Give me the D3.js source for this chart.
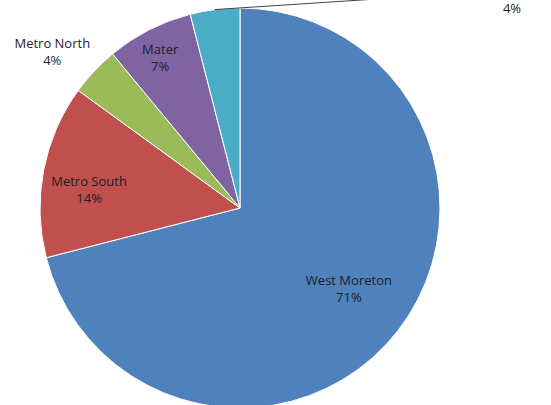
<!DOCTYPE html>
<html><head><meta charset="utf-8">
<script src="https://cdn.jsdelivr.net/npm/d3@7"></script>
<style>body{margin:0;background:#fff}svg{display:block}text{font-family:"Open Sans","Liberation Sans",sans-serif;font-size:13px;fill:#1e1e1e}</style>
</head><body>
<svg id="c" width="551" height="405"></svg>
<script>
const categories = ["West Moreton", "Metro South", "Metro North", "Mater", "Other"];
const values = [71, 14, 4, 7, 4];
const pctLabels = ["71%", "14%", "4%", "7%", "4%"];
const colors = ["#4F81BD", "#C0504D", "#9BBB59", "#8064A2", "#4BACC6"];

const W = 551, H = 405, cx = 240, cy = 208, R = 200;
const svg = d3.select("#c");
const g = svg.append("g").attr("transform", `translate(${cx},${cy})`);
const pie = d3.pie().sort(null).value(d => d)(values);
const arc = d3.arc().innerRadius(0).outerRadius(R);
g.selectAll("path").data(pie).join("path")
  .attr("d", arc).attr("fill", (d, i) => colors[i])
  .attr("stroke", "#fff").attr("stroke-width", 1);

// label radius factors and angle offsets (layout)
const lr = [0.68, 0.76, 1.22, 0.85, null];
const la = [-1, -4, -3.5, -1, 0];
const at = (a, r) => [Math.sin(a) * r, -Math.cos(a) * r];
pie.forEach((d, i) => {
  const mid = (d.startAngle + d.endAngle) / 2 + la[i] * Math.PI / 180;
  if (lr[i] !== null) {
    const [x, y] = at(mid, lr[i] * R);
    const t = g.append("text").attr("text-anchor", "middle");
    t.append("tspan").attr("x", x).attr("y", y - 4).text(categories[i]);
    t.append("tspan").attr("x", x).attr("y", y + 13).text(pctLabels[i]);
  } else {
    const [x0, y0] = at(mid, R);
    const lx = 512 - cx, ly = 8 - cy;
    g.append("path").attr("d", `M${x0},${y0}L${lx - 120},${ly - 10}`)
      .attr("stroke", "#404040").attr("stroke-width", 1).attr("fill", "none");
    g.append("text").attr("text-anchor", "middle").attr("x", lx).attr("y", ly + 5).text(pctLabels[i]);
  }
});
</script>
</body></html>
